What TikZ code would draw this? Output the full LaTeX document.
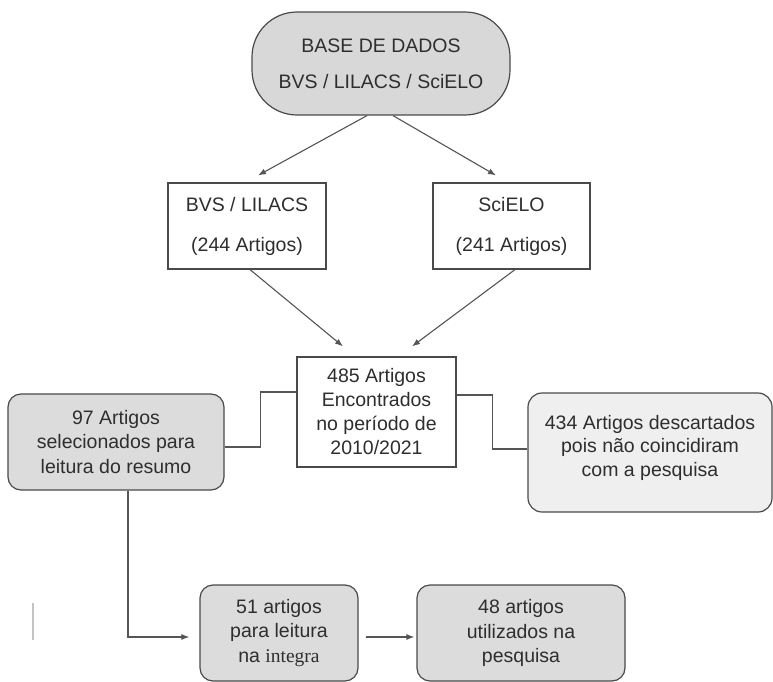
\documentclass[tikz,border=0pt]{standalone}
\usepackage{fontspec}
\setmainfont{Liberation Sans}
\newfontfamily\serifx{Liberation Serif}
\usetikzlibrary{arrows.meta,calc}
\definecolor{boxline}{HTML}{4A4A4A}
\definecolor{conn}{HTML}{555555}
\definecolor{txt}{HTML}{2E2E2E}
\definecolor{fillA}{HTML}{D8D8D8}
\definecolor{fillB}{HTML}{DCDCDC}
\definecolor{fillC}{HTML}{EFEFEF}
\definecolor{artif}{HTML}{C4C4C4}
\tikzset{
  basebox/.style={draw=boxline, line width=1.2pt, text=txt, align=center, inner sep=0pt},
  plainbox/.style={basebox, fill=white, font=\fontsize{19.5}{24}\selectfont},
  graybox/.style={basebox, fill=fillB, rounded corners=13pt, font=\fontsize{19.5}{24.5}\selectfont},
  lightbox/.style={basebox, fill=fillC, rounded corners=14pt, font=\fontsize{19.5}{23.5}\selectfont},
  conline/.style={draw=conn, line width=1.1pt},
  arr/.style={conline, -{Latex[length=8pt,width=6pt]}}
}
\begin{document}
\begin{tikzpicture}[x=1pt,y=-1pt]
\useasboundingbox[fill=white] (0,0) rectangle (773,682);

\node[basebox, fill=fillA, rounded corners=45pt, minimum width=258pt, minimum height=103pt,
      font=\fontsize{19.5}{36}\selectfont] (base) at (381,63.5) {BASE DE DADOS\\BVS / LILACS / SciELO};

\node[plainbox, minimum width=158pt, minimum height=86pt, font=\fontsize{19.5}{40}\selectfont] (bvs) at (247,226) {BVS / LILACS\\(244 Artigos)};
\node[plainbox, minimum width=157pt, minimum height=86pt, font=\fontsize{19.5}{40}\selectfont] (sci) at (511.5,226) {SciELO\\(241 Artigos)};

\node[plainbox, minimum width=159pt, minimum height=110pt] (cen) at (376.5,412) {485 Artigos\\Encontrados\\no período de\\2010/2021};

\node[graybox, minimum width=216pt, minimum height=96pt] (sel) at (116,442) {97 Artigos\\selecionados para\\leitura do resumo};

\node[lightbox, minimum width=244pt, minimum height=119pt, text depth=14pt] (disc) at (650,452.5) {434 Artigos descartados\\pois não coincidiram\\com a pesquisa};

\node[graybox, minimum width=158pt, minimum height=96pt] (b51) at (279,633) {51 artigos\\para leitura\\na {\serifx integra}};
\node[graybox, minimum width=208pt, minimum height=96pt] (b48) at (521,633) {48 artigos\\utilizados na\\pesquisa};

% connectors
\draw[arr] ([xshift=-14pt]base.south) -- ([xshift=11pt,yshift=7pt]bvs.north);
\draw[arr] ([xshift=12pt]base.south) -- ([xshift=-15.5pt,yshift=7pt]sci.north);
\draw[arr] ([xshift=3pt]bvs.south) -- ([xshift=-33.5pt,yshift=10pt]cen.north);
\draw[arr] ([xshift=3.5pt]sci.south) -- ([xshift=35.5pt,yshift=10pt]cen.north);

\draw[conline] ([yshift=20pt]cen.west) -- ++(-36,0) |- ([yshift=-5pt]sel.east);
\draw[conline] ([yshift=17pt]cen.east) -- ++(36,0) |- ([yshift=3.5pt]disc.west);

\draw[arr] ([xshift=12pt]sel.south) |- ([xshift=-10pt,yshift=-4pt]b51.west);
\draw[arr] ([xshift=7pt,yshift=-4pt]b51.east) -- ([xshift=-2pt,yshift=-4pt]b48.west);

% stray mark
\draw[artif, line width=1.5pt] (33,603) -- (33,640);
\end{tikzpicture}
\end{document}
